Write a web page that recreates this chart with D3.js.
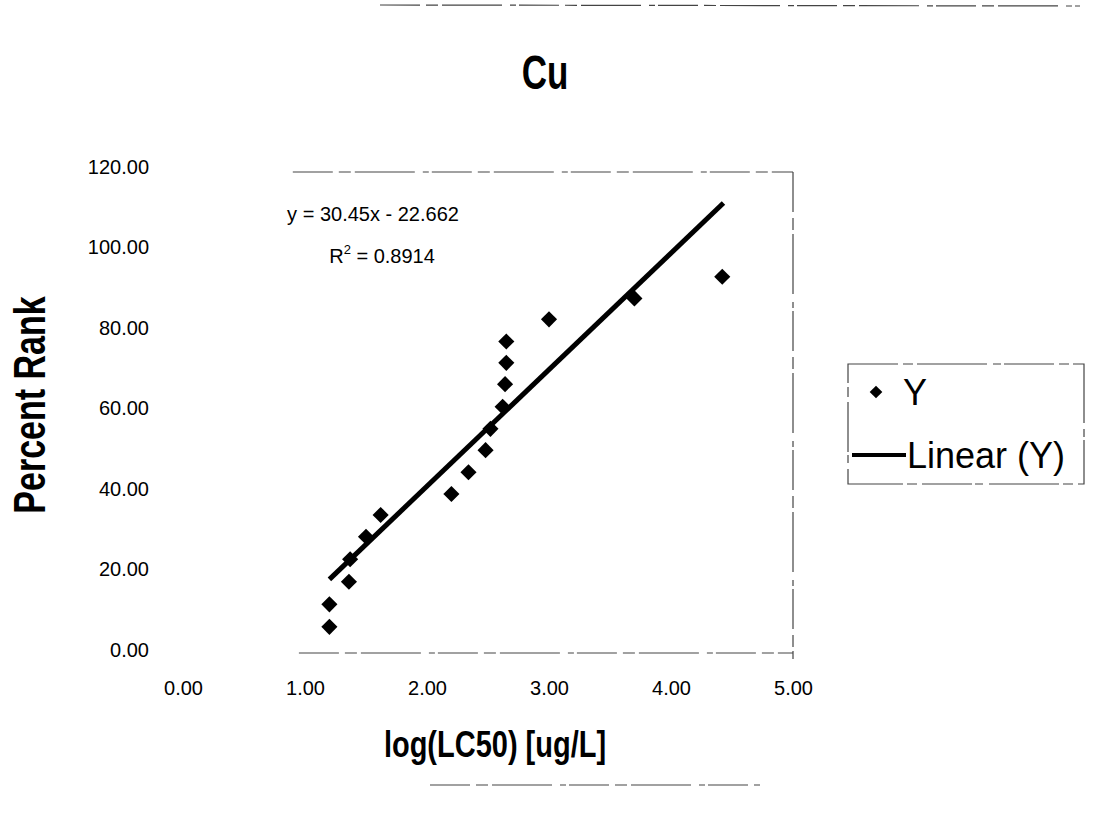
<!DOCTYPE html>
<html>
<head>
<meta charset="utf-8">
<script src="https://cdn.jsdelivr.net/npm/d3@7"></script>
<style>
  body { margin: 0; background: #fff; }
  svg { font-family: "Liberation Sans", Arial, sans-serif; }
</style>
</head>
<body>
<script>
// values
var logLC50 = [1.20, 1.20, 1.36, 1.37, 1.50, 1.62, 2.20, 2.34, 2.48, 2.52, 2.62, 2.64, 2.65, 2.65, 3.00, 3.70, 4.42];
var percentRank = [5.5, 11.1, 16.7, 22.3, 27.9, 33.3, 38.5, 43.9, 49.4, 54.7, 60.2, 65.8, 71.1, 76.4, 81.9, 87.1, 92.5];
var trendX = [1.20, 4.43];
var trendY = [17.3, 110.8];
var xTicks = [0, 1, 2, 3, 4, 5];
var yTicks = [0, 20, 40, 60, 80, 100, 120];

var width = 1093, height = 814;
var svg = d3.select("body").append("svg").attr("width", width).attr("height", height);

var x = d3.scaleLinear().domain([0, 5]).range([183, 793]);
var y = d3.scaleLinear().domain([0, 120]).range([649, 166]);
var fmt = d3.format(".2f");

// faint scanned-looking frame lines
var frame = svg.append("g")
    .attr("fill", "none")
    .attr("stroke", "#444")
    .attr("stroke-width", 1.2)
    .attr("stroke-dasharray", "40,6,12,4,60,8,6,3");
frame.append("line").attr("x1", x(0.9)).attr("x2", x(5)).attr("y1", y(120) + 6).attr("y2", y(120) + 6);
frame.append("line").attr("x1", x(5)).attr("x2", x(5)).attr("y1", y(120) + 6).attr("y2", y(0) + 10);
frame.append("line").attr("x1", x(0.95)).attr("x2", x(5)).attr("y1", y(0) + 4).attr("y2", y(0) + 4);
frame.append("line").attr("x1", 380).attr("x2", 1080).attr("y1", 5).attr("y2", 6);
frame.append("line").attr("x1", 430).attr("x2", 760).attr("y1", 785).attr("y2", 785);

// title (glyphs in the scan are taller than plain Arial)
svg.append("text")
    .attr("transform", "translate(545,89) scale(1,1.35)")
    .attr("text-anchor", "middle")
    .style("font-size", "35px").style("font-weight", "bold")
    .text("Cu");

// axes (labels only)
var yAxis = svg.append("g")
    .attr("transform", "translate(" + (x(0) - 34) + ",0)")
    .call(d3.axisLeft(y).tickValues(yTicks).tickFormat(fmt).tickSize(0).tickPadding(0));
yAxis.select(".domain").remove();
yAxis.selectAll("text").style("font-size", "20px").attr("fill", "#000").attr("dy", "0.35em");

var xAxis = svg.append("g")
    .attr("transform", "translate(0," + (y(0) + 39) + ")")
    .call(d3.axisBottom(x).tickValues(xTicks).tickFormat(fmt).tickSize(0).tickPadding(0));
xAxis.select(".domain").remove();
xAxis.selectAll("text").style("font-size", "20px").attr("fill", "#000").attr("dy", "0.35em");

// axis titles
svg.append("text")
    .attr("transform", "translate(45,405) rotate(-90) scale(1,1.28)")
    .attr("text-anchor", "middle")
    .style("font-size", "34px").style("font-weight", "bold")
    .text("Percent Rank");

svg.append("text")
    .attr("transform", "translate(495,757) scale(1,1.26)")
    .attr("text-anchor", "middle")
    .style("font-size", "29px").style("font-weight", "bold")
    .text("log(LC50) [ug/L]");

// trendline
svg.append("line")
    .attr("x1", x(trendX[0])).attr("y1", y(trendY[0]))
    .attr("x2", x(trendX[1])).attr("y2", y(trendY[1]))
    .attr("stroke", "#000")
    .attr("stroke-width", 5);

// points
var diamond = d3.symbol().type(d3.symbolSquare).size(130);
svg.append("g").selectAll("path")
    .data(d3.zip(logLC50, percentRank))
    .enter().append("path")
    .attr("d", diamond)
    .attr("transform", function (d) {
        return "translate(" + x(d[0]) + "," + y(d[1]) + ") rotate(45)";
    })
    .attr("fill", "#000");

// equation label
var eq = svg.append("g").style("font-size", "20px");
eq.append("text").attr("x", 373).attr("y", 221).attr("text-anchor", "middle")
    .text("y = 30.45x - 22.662");
var r2 = eq.append("text").attr("x", 382).attr("y", 263).attr("text-anchor", "middle");
r2.append("tspan").text("R");
r2.append("tspan").attr("dy", -9).style("font-size", "13px").text("2");
r2.append("tspan").attr("dy", 9).text(" = 0.8914");

// legend
var legend = svg.append("g");
legend.append("rect")
    .attr("x", 848).attr("y", 364).attr("width", 236).attr("height", 120)
    .attr("fill", "none").attr("stroke", "#444").attr("stroke-width", 1.2)
    .attr("stroke-dasharray", "50,5,10,4,70,6,8,3");
legend.append("path")
    .attr("d", d3.symbol().type(d3.symbolSquare).size(80))
    .attr("transform", "translate(876,392) rotate(45)")
    .attr("fill", "#000");
legend.append("text").attr("x", 903).attr("y", 405)
    .style("font-size", "36px").text("Y");
legend.append("line")
    .attr("x1", 852).attr("x2", 906).attr("y1", 455).attr("y2", 455)
    .attr("stroke", "#000").attr("stroke-width", 4);
legend.append("text").attr("x", 907).attr("y", 468)
    .style("font-size", "36px").text("Linear (Y)");
</script>
</body>
</html>
